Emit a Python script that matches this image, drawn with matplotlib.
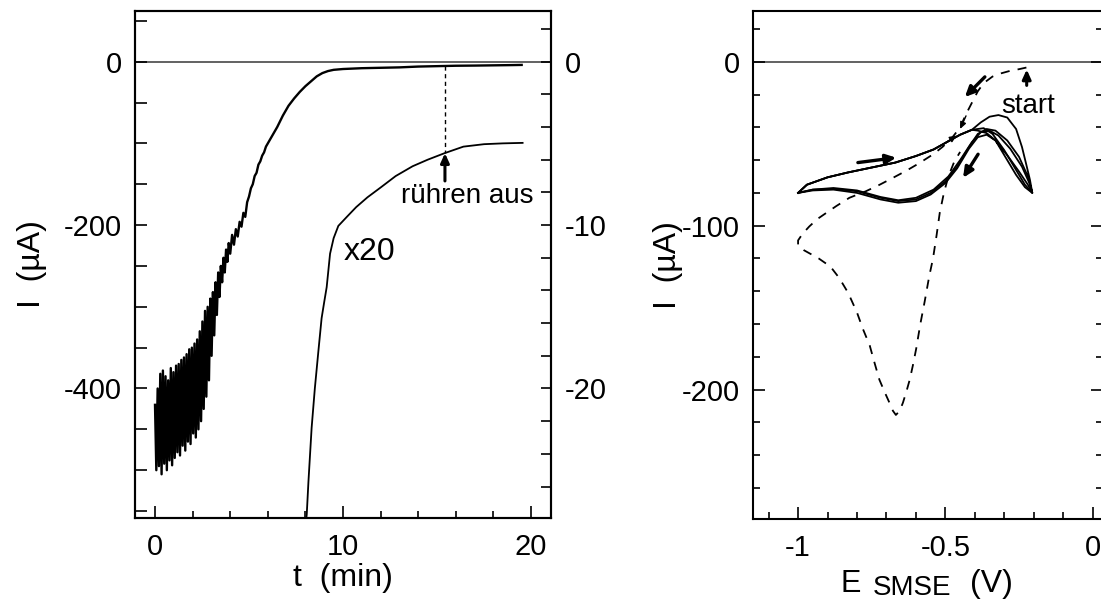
import matplotlib
matplotlib.use('Agg')
import matplotlib.pyplot as plt
from matplotlib.ticker import MultipleLocator

plt.rcParams['font.family'] = ['Liberation Sans', 'DejaVu Sans']

# ---------------- data: left panel (current vs time) ----------------
t_main = [0.00, 0.07, 0.14, 0.21, 0.28, 0.35, 0.42, 0.49, 0.56, 0.63, 0.70, 0.77, 0.84, 0.91,
          0.98, 1.05, 1.12, 1.19, 1.26, 1.33, 1.40, 1.47, 1.54, 1.61, 1.68, 1.75, 1.82, 1.89,
          1.96, 2.03, 2.10, 2.17, 2.24, 2.31, 2.38, 2.45, 2.52, 2.59, 2.66, 2.73, 2.80, 2.87,
          2.94, 3.01, 3.08, 3.15, 3.22, 3.29, 3.36, 3.43, 3.50, 3.57, 3.64, 3.71, 3.78, 3.85,
          3.92, 4.00, 4.10, 4.20, 4.30, 4.40, 4.50, 4.60, 4.70, 4.80, 4.90, 5.00, 5.10, 5.20,
          5.30, 5.40, 5.50, 5.60, 5.70, 5.80, 5.90, 6.00, 6.20, 6.50, 6.80, 7.10, 7.40, 7.70,
          8.00, 8.30, 8.60, 8.90, 9.20, 9.50, 10.0, 11.0, 12.0, 13.0, 14.0, 15.0, 16.0, 17.0,
          18.0, 19.0, 19.5]
I_main = [-420, -500, -400, -495, -382, -505, -378, -492, -385, -500, -390, -488, -375, -494,
          -380, -485, -372, -478, -370, -482, -365, -470, -362, -476, -358, -465, -352, -468,
          -350, -455, -345, -460, -340, -450, -330, -440, -318, -425, -305, -410, -300, -390,
          -290, -360, -282, -335, -270, -310, -258, -288, -250, -270, -240, -258, -230, -245,
          -222, -235, -212, -224, -205, -214, -196, -202, -185, -190, -172, -165, -155, -150,
          -140, -136, -126, -122, -115, -111, -104, -100, -92, -80, -66, -54, -45, -37,
          -30, -24, -18, -14, -11.5, -10, -9, -8, -7.5, -7, -6, -5.5, -5, -4.8,
          -4.5, -4.2, -4]

# magnified (x20) trace, in units of the right-hand axis
t_x20 = [7.95, 8.07, 8.16, 8.33, 8.50, 8.69, 8.86, 9.00, 9.13, 9.31, 9.50, 9.75, 10.2, 10.7,
         11.3, 12.0, 12.8, 13.7, 14.5, 15.4, 16.4, 17.5, 18.5, 19.55]
I_x20 = [-29, -27.7, -25.7, -22.4, -20, -17.7, -15.7, -14.7, -13.8, -11.75, -10.8, -10.05, -9.5, -8.9,
         -8.3, -7.7, -7.0, -6.4, -6.0, -5.6, -5.2, -5.05, -5.0, -4.97]
x20_factor = 20
t_stir_off = 15.4

# ---------------- data: right panel (cyclic voltammograms) ----------------
E_first = [-0.225, -0.25, -0.28, -0.31, -0.34, -0.37, -0.39, -0.41, -0.43, -0.45, -0.48, -0.51,
           -0.542, -0.59, -0.633, -0.68, -0.723, -0.77, -0.826, -0.87, -0.905, -0.935, -0.962,
           -0.985, -1.0, -1.0, -0.98, -0.93, -0.89, -0.86, -0.83, -0.80, -0.78, -0.757, -0.74,
           -0.724, -0.705, -0.69, -0.678, -0.668, -0.655, -0.644, -0.632, -0.621, -0.61, -0.599,
           -0.585, -0.57, -0.555, -0.542, -0.53, -0.519, -0.505, -0.49, -0.47, -0.45]
I_first = [-3.5, -4.5, -5.5, -7, -9, -13, -18, -25, -32, -40, -47, -52,
           -56.5, -62, -66.5, -71, -75, -79, -83, -88, -92.3, -96, -100.5,
           -105, -109, -112, -115, -120, -125, -132, -141, -153, -163, -173, -184,
           -194, -202, -208, -213, -215.5, -213, -208, -201, -194, -185, -175,
           -160, -146, -131, -120, -106, -92, -80, -70, -61, -55]

E_fwd_common = [-1.0, -0.97, -0.90, -0.83, -0.75, -0.67, -0.60, -0.54, -0.50, -0.45, -0.41]
I_fwd_common = [-80, -75, -70.5, -67.5, -64.5, -61.5, -57.5, -53.5, -49.5, -44.5, -41.5]

E_cycA = [-0.38, -0.35, -0.32, -0.29, -0.26, -0.24, -0.225, -0.213, -0.205,
          -0.22, -0.25, -0.29, -0.33, -0.36, -0.39, -0.42, -0.46, -0.50, -0.55, -0.60,
          -0.66, -0.72, -0.80, -0.88, -0.95, -1.0]
I_cycA = [-37, -33.5, -32.5, -34, -41, -52, -63, -72, -80,
          -70, -58, -48, -42, -41, -44, -52, -64, -73, -80, -84,
          -85, -83, -79, -77.5, -78, -80]
E_cycB = [-0.39, -0.37, -0.34, -0.30, -0.26, -0.23, -0.205,
          -0.215, -0.24, -0.28, -0.32, -0.35, -0.38, -0.41, -0.45, -0.49, -0.54, -0.60,
          -0.66, -0.72, -0.80, -0.88, -0.95, -1.0]
I_cycB = [-41, -40.5, -44, -54, -66, -75, -80,
          -74, -64, -53, -45, -42, -43, -49, -60, -70, -78, -83,
          -84.5, -82.5, -78.5, -77, -78, -80]
E_cycC = [-0.39, -0.36, -0.33, -0.30, -0.26, -0.23, -0.205,
          -0.22, -0.25, -0.29, -0.33, -0.36, -0.39, -0.42, -0.46, -0.50, -0.55, -0.60,
          -0.66, -0.72, -0.80, -0.88, -0.95, -1.0]
I_cycC = [-42, -43.5, -48, -57, -69, -76.5, -80,
          -75, -67, -57, -48, -44.5, -46, -53, -65, -74, -81, -85,
          -86, -84, -80, -78, -78.5, -80]

# ---------------- figure ----------------
W, H = 1101, 610
fig = plt.figure(figsize=(W / 100, H / 100), dpi=100)


def rect(l, t, r, b):
    return [l / W, 1 - b / H, (r - l) / W, (b - t) / H]


ax1 = fig.add_axes(rect(135, 11, 551, 518))
ax2 = fig.add_axes(rect(753, 11, 1103, 519))

for ax in (ax1, ax2):
    for s in ax.spines.values():
        s.set_linewidth(1.5)

# ----- left panel -----
ax1.axhline(0, color='#555555', lw=1.3, zorder=1)
ax1.plot(t_main, I_main, color='black', lw=1.7, zorder=3)
ax1.plot(t_x20, [v * x20_factor for v in I_x20], color='black', lw=1.3, zorder=3)
I_top = I_main[min(range(len(t_main)), key=lambda i: abs(t_main[i] - t_stir_off))]
I_bot = I_x20[t_x20.index(t_stir_off)] * x20_factor
ax1.plot([t_stir_off, t_stir_off], [I_top, I_bot], color='black', lw=1.0, dashes=(3, 2.5))
ax1.annotate('', xy=(t_stir_off + 0.02, I_bot), xytext=(t_stir_off + 0.02, -146),
             arrowprops=dict(arrowstyle='-|>,head_length=0.55,head_width=0.25',
                             lw=2.2, color='black', shrinkA=0, shrinkB=0))
ax1.text(16.6, -173.5, 'rühren aus', ha='center', va='baseline', fontsize=20)
ax1.text(11.4, -242.5, 'x20', ha='center', va='baseline', fontsize=23)

ax1.set_xlim(-1.064, 21.06)
ax1.set_ylim(-558.5, 62)
ax1.set_xticks([0, 10, 20])
ax1.set_xticklabels(['0', '10', '20'])
ax1.xaxis.set_minor_locator(MultipleLocator(2))
ax1.set_yticks([0, -200, -400])
ax1.set_yticklabels(['0', '-200', '-400'])
ax1.yaxis.set_minor_locator(MultipleLocator(50))
ax1.tick_params(axis='x', which='major', direction='in', length=8.6, width=1.2,
                labelsize=21, pad=11)
ax1.tick_params(axis='x', which='minor', direction='in', length=5, width=1.2)
ax1.tick_params(axis='y', which='both', direction='in', length=8.6, width=1.2)
ax1.tick_params(axis='y', which='major', labelsize=21, pad=9.5)
ax1.set_xlabel('t  (min)', fontsize=23)
ax1.xaxis.set_label_coords(0.5, -0.088)
ax1.set_ylabel('I  (µA)', fontsize=23)
ax1.yaxis.set_label_coords(-0.212, 0.5)

ax1b = ax1.twinx()
ax1b.set_ylim(-558.5 / x20_factor, 62 / x20_factor)
ax1b.set_yticks([0, -10, -20])
ax1b.set_yticklabels(['0', '-10', '-20'])
ax1b.yaxis.set_minor_locator(MultipleLocator(2))
ax1b.tick_params(axis='y', which='both', direction='in', length=7, width=1.2)
ax1b.tick_params(axis='y', which='major', labelsize=21, pad=10)
for s in ax1b.spines.values():
    s.set_linewidth(1.5)

# ----- right panel -----
ax2.axhline(0, color='#555555', lw=1.3, zorder=1)
ax2.plot(E_first, I_first, color='black', lw=1.3, dashes=(5, 4.5))
for Ec, Ic in ((E_cycA, I_cycA), (E_cycB, I_cycB), (E_cycC, I_cycC)):
    ax2.plot(E_fwd_common + Ec, I_fwd_common + Ic, color='black', lw=1.3)

arrow_kw = dict(arrowstyle='-|>,head_length=0.6,head_width=0.28', lw=2.4,
                color='black', shrinkA=0, shrinkB=0)
ax2.annotate('', xy=(-0.434, -21.5), xytext=(-0.366, -9.2), arrowprops=arrow_kw)
ax2.annotate('', xy=(-0.667, -58.5), xytext=(-0.797, -61.5), arrowprops=arrow_kw)
ax2.annotate('', xy=(-0.44, -70.8), xytext=(-0.389, -56.4), arrowprops=arrow_kw)
ax2.annotate('', xy=(-0.224, -4.7), xytext=(-0.224, -14.4),
             arrowprops=dict(arrowstyle='-|>,head_length=0.55,head_width=0.25', lw=2.2,
                             color='black', shrinkA=0, shrinkB=0))
small_kw = dict(arrowstyle='-|>,head_length=0.4,head_width=0.18', lw=1.0,
                color='black', shrinkA=0, shrinkB=0)
ax2.annotate('', xy=(-0.462, -45), xytext=(-0.50, -49.5), arrowprops=small_kw)
ax2.annotate('', xy=(-0.45, -41), xytext=(-0.43, -33), arrowprops=small_kw)
ax2.text(-0.2195, -31.4, 'start', ha='center', va='baseline', fontsize=20)

ax2.set_xlim(-1.153, 0.035)
ax2.set_ylim(-279, 31)
ax2.set_xticks([-1, -0.5, 0])
ax2.set_xticklabels(['-1', '-0.5', '0'])
ax2.xaxis.set_minor_locator(MultipleLocator(0.1))
ax2.set_yticks([0, -100, -200])
ax2.set_yticklabels(['0', '-100', '-200'])
ax2.yaxis.set_minor_locator(MultipleLocator(20))
ax2.tick_params(which='major', direction='in', length=8.6, width=1.2, labelsize=21,
                right=True)
ax2.tick_params(which='minor', direction='in', length=5, width=1.2, right=True)
ax2.tick_params(axis='x', which='major', pad=11)
ax2.tick_params(axis='y', which='major', pad=9.5)
ax2.set_ylabel('I  (µA)', fontsize=23)
ax2.yaxis.set_label_coords(-0.2, 0.5)

# x label with lowered subscript
fig.text(840 / W, 1 - 591.7 / H, 'E', fontsize=22, ha='left', va='baseline')
fig.text(873 / W, 1 - 595 / H, 'SMSE', fontsize=20, ha='left', va='baseline')
fig.text(970 / W, 1 - 591.7 / H, '(V)', fontsize=23, ha='left', va='baseline')

fig.savefig('out.png', dpi=100)
